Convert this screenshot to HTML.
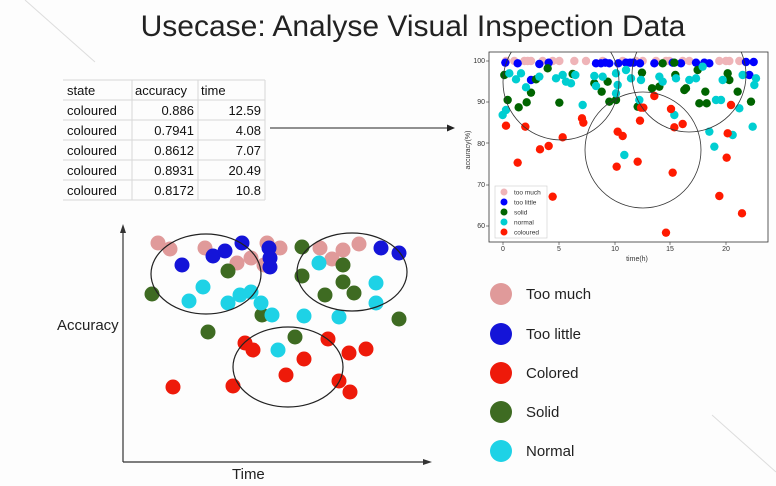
<!DOCTYPE html>
<html><head><meta charset="utf-8"><style>
html,body{margin:0;padding:0;background:#fff;}
svg{display:block;font-family:"Liberation Sans",sans-serif;}
</style></head><body>
<svg id="s" width="776" height="486" viewBox="0 0 776 486" xmlns="http://www.w3.org/2000/svg">
<rect width="776" height="486" fill="#fdfdfd"/>
<line x1="25" y1="0" x2="95" y2="62" stroke="#ddd" stroke-width="1"/>
<line x1="712" y1="415" x2="776" y2="472" stroke="#ddd" stroke-width="1"/>
<text x="413" y="36" text-anchor="middle" font-size="30" fill="#222">Usecase: Analyse Visual Inspection Data</text>

<g font-size="13" fill="#111">
<g stroke="#d8d8d8" stroke-width="1">
<line x1="63" y1="80" x2="265" y2="80"/><line x1="63" y1="100" x2="265" y2="100"/>
<line x1="63" y1="120" x2="265" y2="120"/><line x1="63" y1="140" x2="265" y2="140"/>
<line x1="63" y1="160" x2="265" y2="160"/><line x1="63" y1="180" x2="265" y2="180"/>
<line x1="63" y1="200" x2="265" y2="200"/>
<line x1="132" y1="80" x2="132" y2="200"/><line x1="198" y1="80" x2="198" y2="200"/><line x1="265" y1="80" x2="265" y2="200"/>
</g>
<text x="67" y="95">state</text><text x="135" y="95">accuracy</text><text x="201" y="95">time</text>
<text x="67" y="115">coloured</text><text x="194" y="115" text-anchor="end">0.886</text><text x="261" y="115" text-anchor="end">12.59</text>
<text x="67" y="135">coloured</text><text x="194" y="135" text-anchor="end">0.7941</text><text x="261" y="135" text-anchor="end">4.08</text>
<text x="67" y="155">coloured</text><text x="194" y="155" text-anchor="end">0.8612</text><text x="261" y="155" text-anchor="end">7.07</text>
<text x="67" y="175">coloured</text><text x="194" y="175" text-anchor="end">0.8931</text><text x="261" y="175" text-anchor="end">20.49</text>
<text x="67" y="195">coloured</text><text x="194" y="195" text-anchor="end">0.8172</text><text x="261" y="195" text-anchor="end">10.8</text>
</g>
<line x1="270" y1="128" x2="450" y2="128" stroke="#222" stroke-width="1"/>
<polygon points="455,128 447,124.5 447,131.5" fill="#222"/>

<line x1="123" y1="232" x2="123" y2="462" stroke="#333" stroke-width="1.2"/>
<polygon points="123,224 120,233 126,233" fill="#333"/>
<line x1="123" y1="462" x2="425" y2="462" stroke="#333" stroke-width="1.2"/>
<polygon points="432,462 423,459 423,465" fill="#333"/>
<text x="57" y="330" font-size="15" fill="#222">Accuracy</text>
<text x="232" y="479" font-size="15" fill="#222">Time</text>
<g id="sketch"></g>
<g fill="none" stroke="#222" stroke-width="1.2">
<ellipse cx="206" cy="274" rx="55" ry="40"/>
<ellipse cx="352" cy="272" rx="55" ry="39"/>
<ellipse cx="288" cy="367" rx="55" ry="40"/>
</g>

<g font-size="15" fill="#222">
<circle cx="501" cy="294" r="11" fill="#e09a9a"/><text x="526" y="299">Too much</text>
<circle cx="501" cy="334" r="11" fill="#1414d8"/><text x="526" y="339">Too little</text>
<circle cx="501" cy="373" r="11" fill="#ee1a0a"/><text x="526" y="378">Colored</text>
<circle cx="501" cy="412" r="11" fill="#3e6b22"/><text x="526" y="417">Solid</text>
<circle cx="501" cy="451" r="11" fill="#1ed2e6"/><text x="526" y="456">Normal</text>
</g>

<defs><clipPath id="cp"><rect x="489" y="52" width="279" height="190"/></clipPath></defs>
<rect x="489" y="52" width="279" height="190" fill="#fff" stroke="#333" stroke-width="0.8"/>
<g id="mpl" clip-path="url(#cp)"></g>
<g clip-path="url(#cp)" fill="none" stroke="#333" stroke-width="0.8">
<circle cx="561" cy="82" r="58"/><circle cx="689" cy="75" r="57"/><circle cx="643" cy="150" r="58"/>
</g>
<g font-size="7" fill="#333">
<text x="503" y="251" text-anchor="middle">0</text><text x="559" y="251" text-anchor="middle">5</text>
<text x="615" y="251" text-anchor="middle">10</text><text x="670" y="251" text-anchor="middle">15</text>
<text x="726" y="251" text-anchor="middle">20</text>
<text x="485" y="63" text-anchor="end">100</text><text x="485" y="104" text-anchor="end">90</text>
<text x="485" y="146" text-anchor="end">80</text><text x="485" y="187" text-anchor="end">70</text>
<text x="485" y="228" text-anchor="end">60</text>
<text x="637" y="261" text-anchor="middle">time(h)</text>
<text transform="translate(470,150) rotate(-90)" text-anchor="middle">accuracy(%)</text>
</g>
<g stroke="#333" stroke-width="0.6">
<line x1="503" y1="242" x2="503" y2="245"/><line x1="559" y1="242" x2="559" y2="245"/><line x1="615" y1="242" x2="615" y2="245"/><line x1="670" y1="242" x2="670" y2="245"/><line x1="726" y1="242" x2="726" y2="245"/>
<line x1="486" y1="61" x2="489" y2="61"/><line x1="486" y1="102" x2="489" y2="102"/><line x1="486" y1="143" x2="489" y2="143"/><line x1="486" y1="185" x2="489" y2="185"/><line x1="486" y1="226" x2="489" y2="226"/>
</g>
<rect x="495" y="186" width="52" height="52" fill="#fff" fill-opacity="0.85" stroke="#ccc" stroke-width="0.6"/>
<g font-size="6.5" fill="#333">
<circle cx="504" cy="192" r="3.5" fill="#efb4b8"/><text x="514" y="194.5">too much</text>
<circle cx="504" cy="202" r="3.5" fill="#0000ff"/><text x="514" y="204.5">too little</text>
<circle cx="504" cy="212" r="3.5" fill="#006400"/><text x="514" y="214.5">solid</text>
<circle cx="504" cy="222" r="3.5" fill="#00ced1"/><text x="514" y="224.5">normal</text>
<circle cx="504" cy="232" r="3.5" fill="#ff1a00"/><text x="514" y="234.5">coloured</text>
</g>
</svg>
<script>
var NS="http://www.w3.org/2000/svg";
function dot(g,x,y,r,c){var e=document.createElementNS(NS,"circle");e.setAttribute("cx",x);e.setAttribute("cy",y);e.setAttribute("r",r);e.setAttribute("fill",c);g.appendChild(e);}
var sk=document.getElementById("sketch");
var S={"#e09a9a":[[158,243],[170,249],[205,248],[237,263],[251,258],[264,265],[267,243],[280,248],[320,248],[332,259],[343,250],[359,244]],
"#1414d8":[[182,265],[213,256],[225,251],[242,243],[269,248],[270,267],[270,258],[381,248],[399,253]],
"#3e6b22":[[152,294],[228,271],[262,315],[208,332],[302,247],[302,276],[343,265],[343,282],[325,295],[354,293],[399,319],[295,337]],
"#1ed2e6":[[203,287],[189,301],[228,303],[240,295],[251,292],[261,303],[272,315],[304,316],[319,263],[339,317],[376,283],[376,303],[278,350]],
"#ee1a0a":[[245,343],[253,350],[304,359],[286,375],[173,387],[233,386],[328,339],[349,353],[366,349],[339,381],[350,392]]};
for(var c in S)S[c].forEach(function(p){dot(sk,p[0],p[1],7.5,c);});
var mp=document.getElementById("mpl");
function Z(l){return l.map(function(p){return [456+p[0]/3,50+p[1]/3];});}
var pinkx=[150,175,205,215,225,260,290,310,355,390,440,500,540,560,600,630,640,680,700,790,810,820,850];
var M=[
["#efb4b8",pinkx.map(function(x){return [x,33];})],
["#0000ff",[[148,38],[185,40],[250,42],[278,38],[420,40],[435,40],[448,38],[460,40],[487,40],[510,38],[522,38],[532,38],[552,40],[595,40],[650,38],[675,40],[720,38],[745,38],[760,40],[870,36],[893,36],[225,90],[880,75]]],
["#006400",[[145,75],[155,150],[188,172],[212,157],[225,128],[240,88],[275,55],[310,158],[350,72],[415,100],[437,125],[455,95],[460,155],[480,150],[545,170],[558,68],[588,115],[610,110],[620,40],[655,38],[658,75],[685,120],[690,115],[730,160],[748,125],[752,160],[725,60],[815,70],[820,90],[845,125],[885,155]]],
["#00ced1",[[140,195],[150,180],[160,70],[180,88],[195,70],[210,112],[250,80],[300,85],[320,75],[330,95],[345,100],[358,75],[380,165],[415,78],[420,108],[440,80],[480,70],[485,105],[480,130],[510,60],[525,85],[550,150],[555,90],[610,80],[620,95],[655,195],[660,85],[700,90],[720,85],[740,50],[760,245],[775,290],[780,150],[795,150],[800,90],[830,255],[850,175],[860,75],[890,230],[895,105],[900,85],[505,315]]],
["#ff1a00",[[150,227],[185,338],[208,230],[252,298],[278,288],[290,440],[320,262],[378,205],[382,218],[482,350],[485,245],[500,258],[545,335],[552,212],[555,173],[562,173],[595,138],[630,548],[645,177],[650,368],[655,232],[680,222],[790,438],[812,323],[815,250],[825,165],[858,490]]]];
M.forEach(function(s){Z(s[1]).forEach(function(p){dot(mp,p[0],p[1],4.2,s[0]);});});
</script>
</body></html>
